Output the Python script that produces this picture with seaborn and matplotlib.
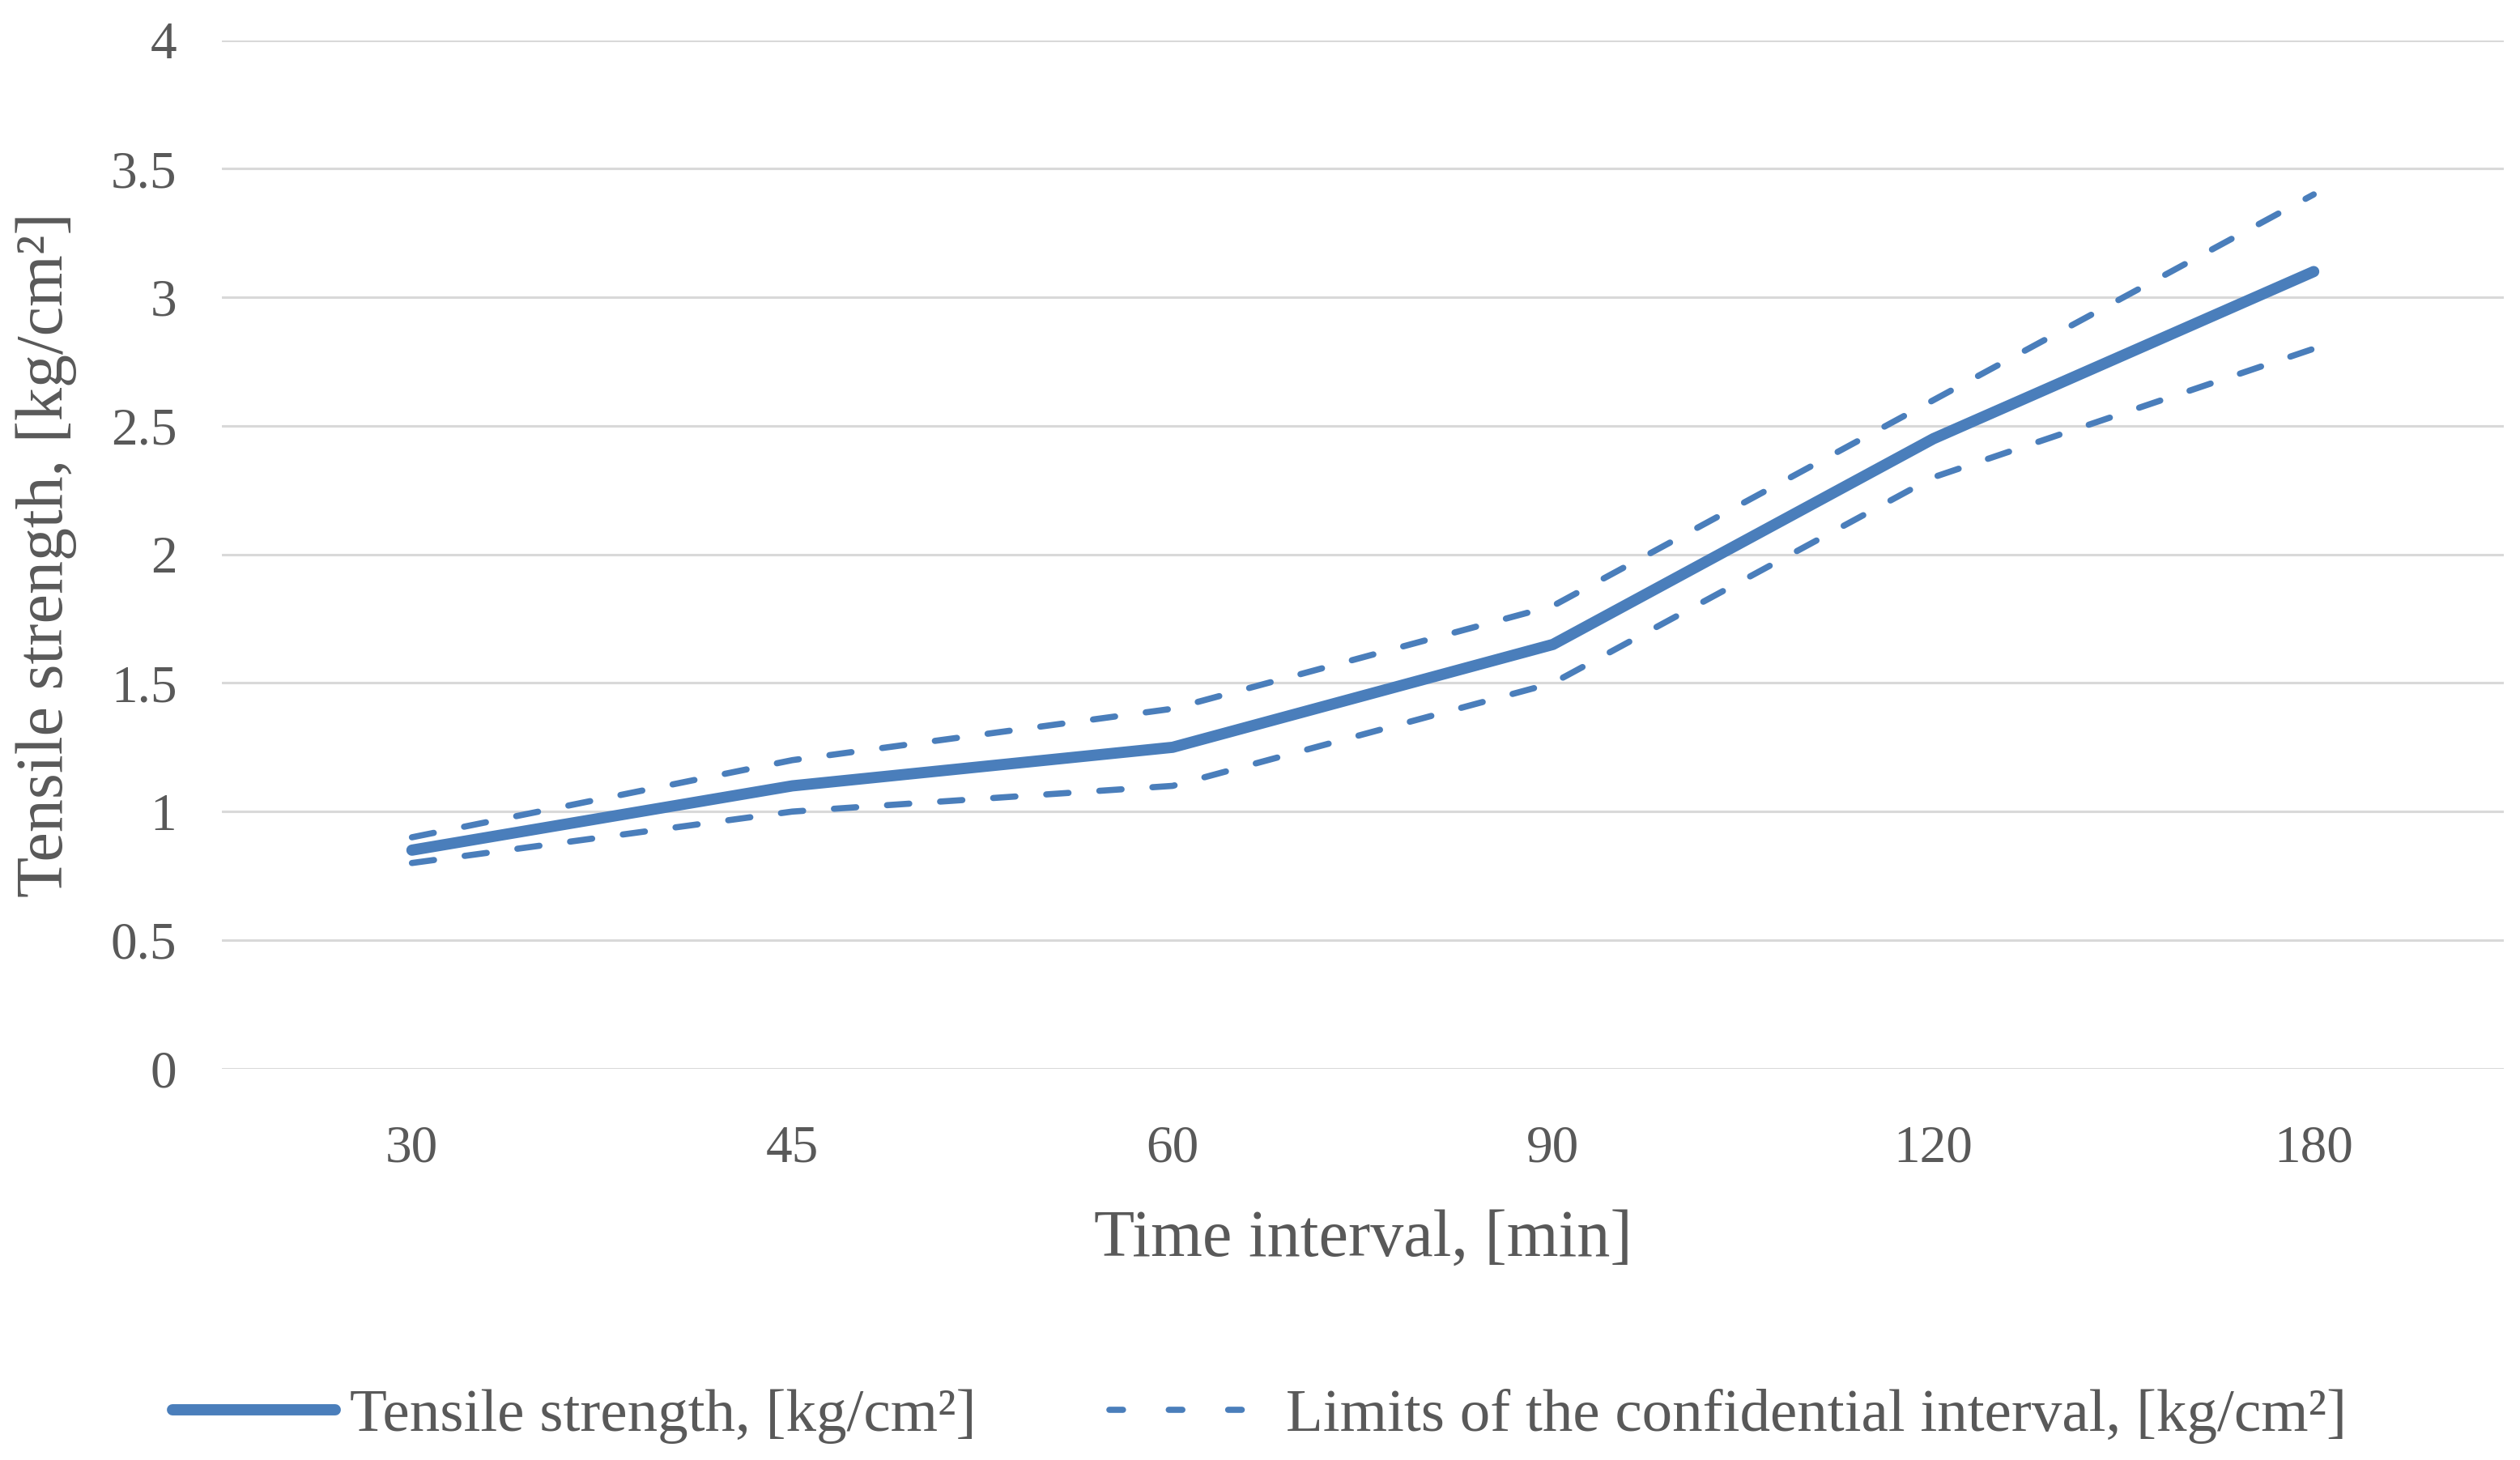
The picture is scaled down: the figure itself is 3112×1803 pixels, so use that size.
import matplotlib
matplotlib.use("Agg")
import matplotlib.pyplot as plt
import seaborn as sns
import pandas as pd

# ---- data ----
time_labels = ["30", "45", "60", "90", "120", "180"]
tensile = [0.85, 1.10, 1.25, 1.65, 2.45, 3.10]
upper_limit = [0.90, 1.20, 1.40, 1.80, 2.60, 3.40]
lower_limit = [0.80, 1.00, 1.10, 1.50, 2.30, 2.80]
y_ticks = [0, 0.5, 1, 1.5, 2, 2.5, 3, 3.5, 4]
y_tick_labels = ["0", "0.5", "1", "1.5", "2", "2.5", "3", "3.5", "4"]

sns.set_theme(style="white")
plt.rcParams["font.family"] = ["Liberation Serif", "DejaVu Serif"]

blue = "#4A7EBB"
text_col = "#595959"
grid_col = "#D9D9D9"

df = pd.DataFrame({"time": time_labels, "tensile": tensile,
                   "upper": upper_limit, "lower": lower_limit})

fig = plt.figure(figsize=(31.12, 18.03), dpi=100)
ax = fig.add_axes([0.088, 0.268, 0.9056, 0.7045])

for y in y_ticks:
    ax.axhline(y, color=grid_col, lw=2.2, zorder=0)

sns.lineplot(data=df, x="time", y="tensile", ax=ax, color=blue, lw=10,
             solid_capstyle="round", solid_joinstyle="round",
             label="Tensile strength, [kg/cm²]", zorder=3, sort=False)
sns.lineplot(data=df, x="time", y="upper", ax=ax, color=blue, lw=5.5,
             linestyle=(0, (3.6, 5.0)), dash_capstyle="round",
             label="Limits of the confidential interval, [kg/cm²]", zorder=2, sort=False)
sns.lineplot(data=df, x="time", y="lower", ax=ax, color=blue, lw=5.5,
             linestyle=(0, (3.6, 5.0)), dash_capstyle="round",
             label="_nolegend_", zorder=2, sort=False)

ax.set_xlim(-0.5, len(time_labels) - 0.5)
ax.set_ylim(0, 4)
ax.set_yticks(y_ticks)
ax.set_yticklabels(y_tick_labels)
for s in ax.spines.values():
    s.set_visible(False)
ax.tick_params(axis="both", length=0, labelsize=47, colors=text_col)
ax.tick_params(axis="x", pad=50)
ax.tick_params(axis="y", pad=40)

ax.set_xlabel("Time interval, [min]", fontsize=59, color=text_col, labelpad=32)
ax.set_ylabel("Tensile strength, [kg/cm²]", fontsize=59, color=text_col, labelpad=30)

handles, labels = ax.get_legend_handles_labels()
ax.get_legend().remove()
leg = fig.legend(handles, labels, loc="center", bbox_to_anchor=(0.5, 0.03), ncol=2,
                 frameon=False, fontsize=54, labelcolor=text_col, handlelength=2.67,
                 handletextpad=0.24, columnspacing=2.2)
leg.get_lines()[1].set_linestyle((0, (2.2, 7.4)))

fig.savefig("out.png", dpi=100, facecolor="white")
